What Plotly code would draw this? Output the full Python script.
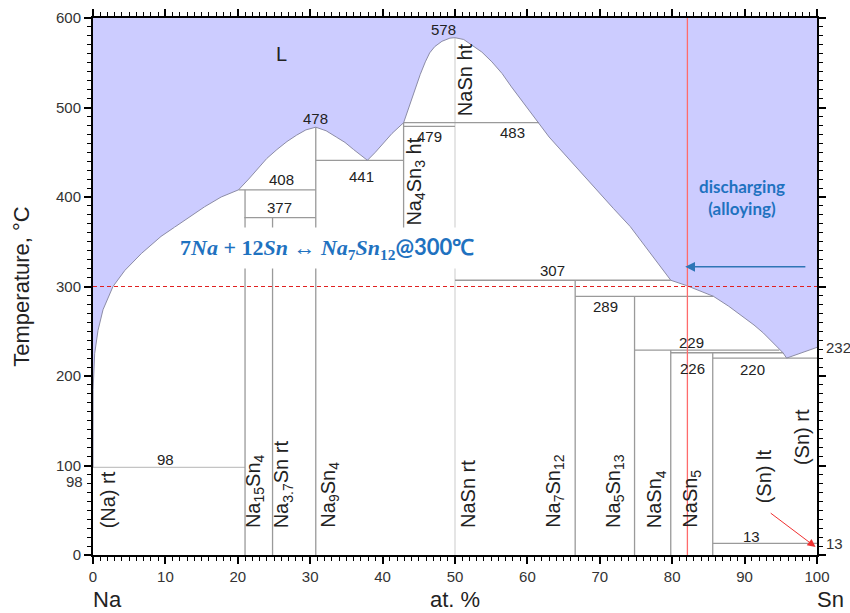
import plotly.graph_objects as go

# ---- Na–Sn phase diagram data (composition in at.% Sn, temperature in °C) ----
liquidus_x = [0, 0.02, 0.23, 0.69, 1.38, 2.76, 4.4, 6.7, 9.4, 12.7, 15.4, 17.7, 20.1,
              21.5, 22.6, 24.0, 25.4, 26.8, 28.1, 29.4, 30.77,
              32.2, 33.6, 34.8, 36.0, 37.0, 37.9,
              39.0, 40.1, 41.3, 42.9,
              43.6, 44.5, 45.2, 45.9, 46.5, 47.2, 48.2, 49.3, 50.0,
              51.2, 52.3, 53.7, 55.1, 56.5, 57.8, 59.0, 60.1, 61.6,
              63.0, 65.0, 67.3, 69.6, 71.9, 74.2, 77.0, 79.8,
              82.0, 84.0, 85.7,
              87.8, 89.8, 91.3, 92.6, 93.8, 94.8, 95.3, 95.8,
              100]
liquidus_t = [98, 185, 225, 251, 274, 300, 318, 337, 356, 374, 389, 400, 408,
              420, 430, 443, 453, 462, 469, 475, 478,
              474, 467, 461, 453, 447, 441,
              450, 460, 471, 483,
              500, 521, 537, 551, 561, 568, 574, 577.5, 578,
              576, 570, 562, 551, 538, 523, 510, 499, 483,
              467, 449, 428, 408, 387, 367, 337, 307,
              301, 295, 289,
              278, 266, 257, 248, 238, 229, 226, 220,
              232]

# invariant (horizontal) reactions
invariant_t = [98, 408, 377, 441, 483, 479, 307, 289, 229, 226, 220, 13]
invariant_x0 = [0, 20.1, 20.9, 30.77, 42.9, 42.9, 50, 66.6, 74.8, 79.8, 85.6, 85.6]
invariant_x1 = [21.0, 30.77, 30.77, 42.9, 61.6, 50, 79.8, 85.7, 94.8, 95.3, 100, 100]

# compound / phase (vertical) lines
compound_x = [21.0, 24.8, 30.77, 42.9, 66.6, 74.8, 79.8, 85.6]
compound_t0 = [0, 0, 0, 355, 0, 0, 0, 0]
compound_t1 = [408, 377, 478, 483, 307, 289, 229, 226]
nasn_x = 50
nasn_t = [0, 578]

# operating temperature and composition marker
op_temp = 300
op_comp = 82.1

# label texts
value_labels = ["98", "408", "377", "441", "479", "483", "307", "289", "229", "226", "220", "13", "478", "578"]
value_label_t = [98, 408, 377, 441, 479, 483, 307, 289, 229, 226, 220, 13, 478, 578]
phase_labels = ["(Na) rt", "Na<sub>15</sub>Sn<sub>4</sub>", "Na<sub>3.7</sub>Sn rt", "Na<sub>9</sub>Sn<sub>4</sub>",
                "NaSn rt", "Na<sub>7</sub>Sn<sub>12</sub>", "Na<sub>5</sub>Sn<sub>13</sub>", "NaSn<sub>4</sub>",
                "NaSn<sub>5</sub>", "(Sn) lt", "(Sn) rt", "NaSn ht", "Na<sub>4</sub>Sn<sub>3</sub> ht"]

# ---- layout helpers (positions for text) ----
value_label_x = [10.0, 26.1, 25.7, 37.1, 46.5, 58.0, 63.4, 70.8, 82.7, 82.8, 91.1, 91.0, 30.7, 48.4]
value_label_shift = [8, 10, 10, -16, -10, -10, 10, -10, 8, -16, -11, 7, 9, 8]
phase_label_x = [2.2, 22.4, 26.3, 32.7, 51.8, 63.8, 72.1, 77.8, 82.7, 92.6, 97.9, 51.3, 44.5]
phase_label_t0 = [28, 28, 28, 28, 28, 28, 28, 28, 28, 56, 98, 488, 366]

LINE_GREY = "#9a9a9a"
TEXT = "#222222"
BLUE = "#1f72c0"
FONT = "Liberation Sans, Arial, sans-serif"


def segments_h(ts, x0s, x1s):
    xs, ys = [], []
    for t, a, b in zip(ts, x0s, x1s):
        xs += [a, b, None]
        ys += [t, t, None]
    return xs, ys


def segments_v(xs_, t0s, t1s):
    xs, ys = [], []
    for x, a, b in zip(xs_, t0s, t1s):
        xs += [x, x, None]
        ys += [a, b, None]
    return xs, ys


fig = go.Figure()

# liquid region (above liquidus up to the top of the axis)
fig.add_trace(go.Scatter(
    x=liquidus_x + [100, 0], y=liquidus_t + [600, 600],
    fill="toself", fillcolor="#ccccff", line=dict(width=0),
    mode="lines", hoverinfo="skip", showlegend=False))

# NaSn line (lighter)
fig.add_trace(go.Scatter(x=[nasn_x, nasn_x], y=nasn_t, mode="lines",
                         line=dict(color="#dcdcdc", width=1.5), showlegend=False, hoverinfo="skip"))

# invariant lines
hx, hy = segments_h(invariant_t[1:], invariant_x0[1:], invariant_x1[1:])
fig.add_trace(go.Scatter(x=hx, y=hy, mode="lines",
                         line=dict(color=LINE_GREY, width=1.3), showlegend=False, hoverinfo="skip"))
fig.add_trace(go.Scatter(x=[invariant_x0[0], invariant_x1[0]], y=[invariant_t[0]] * 2, mode="lines",
                         line=dict(color="#c4c4c4", width=1.3), showlegend=False, hoverinfo="skip"))

# compound lines
vx, vy = segments_v(compound_x, compound_t0, compound_t1)
fig.add_trace(go.Scatter(x=vx, y=vy, mode="lines",
                         line=dict(color=LINE_GREY, width=1.3), showlegend=False, hoverinfo="skip"))

# liquidus outline
fig.add_trace(go.Scatter(x=liquidus_x, y=liquidus_t, mode="lines",
                         line=dict(color="#8c8ca6", width=1), showlegend=False, hoverinfo="skip"))

# operating temperature (dashed) and composition (solid) markers
fig.add_trace(go.Scatter(x=[0, 100], y=[op_temp, op_temp], mode="lines",
                         line=dict(color="#e02020", width=1, dash="4px,3px"), showlegend=False, hoverinfo="skip"))
fig.add_trace(go.Scatter(x=[op_comp, op_comp], y=[0, 600], mode="lines",
                         line=dict(color="#ff6b6b", width=1.3), showlegend=False, hoverinfo="skip"))

ann = []
for txt, x, t, s in zip(value_labels, value_label_x, value_label_t, value_label_shift):
    ann.append(dict(x=x, y=t, text=txt, showarrow=False, yshift=s,
                    font=dict(family=FONT, size=15, color=TEXT)))

for txt, x, t in zip(phase_labels, phase_label_x, phase_label_t0):
    ann.append(dict(x=x, y=t, text=txt, showarrow=False, textangle=-90,
                    xanchor="center", yanchor="bottom",
                    font=dict(family=FONT, size=20, color=TEXT)))

# liquid label
ann.append(dict(x=26.1, y=560, text="L", showarrow=False,
                font=dict(family=FONT, size=20, color=TEXT)))

# extra tick-style labels on the axes
ann.append(dict(x=0, y=98, xref="paper", text="98", showarrow=False, xanchor="right",
                xshift=-8, yshift=-14, font=dict(family=FONT, size=15, color="#333")))
ann.append(dict(x=1, y=232, xref="paper", text="232", showarrow=False, xanchor="left",
                xshift=7, font=dict(family=FONT, size=15, color="#333")))
ann.append(dict(x=1, y=13, xref="paper", text="13", showarrow=False, xanchor="left",
                xshift=7, font=dict(family=FONT, size=15, color="#333")))

# composition end labels
ann.append(dict(x=0, y=0, xref="paper", yref="paper", text="Na", showarrow=False,
                xanchor="center", yanchor="middle", xshift=14, yshift=-44,
                font=dict(family=FONT, size=22, color=TEXT)))
ann.append(dict(x=1, y=0, xref="paper", yref="paper", text="Sn", showarrow=False,
                xanchor="center", yanchor="middle", xshift=13, yshift=-44,
                font=dict(family=FONT, size=22, color=TEXT)))

# reaction formula
ann.append(dict(x=32.3, y=343, showarrow=False, bgcolor="white", borderpad=5,
                text=("<b>7<i>Na</i> + 12<i>Sn</i> ↔ <i>Na</i><sub>7</sub><i>Sn</i><sub>12</sub>"
                      "<span style='font-family:Lato, sans-serif'>@300℃</span></b>"),
                font=dict(family="Liberation Serif, DejaVu Serif, serif", size=22, color=BLUE)))

# discharge direction
ann.append(dict(x=89.7, y=399, showarrow=False, text="<b>discharging<br>(alloying)</b>",
                font=dict(family="Lato, Open Sans, sans-serif", size=17, color=BLUE)))
ann.append(dict(x=81.8, y=322, ax=98.6, ay=322, xref="x", yref="y", axref="x", ayref="y",
                text="", showarrow=True, arrowhead=2, arrowsize=1.3, arrowwidth=1.5,
                arrowcolor="#2e75b6"))

# pointer to the (Sn) allotropic transition at 13 °C
ann.append(dict(x=99.8, y=9, ax=93.4, ay=48, xref="x", yref="y", axref="x", ayref="y",
                text="", showarrow=True, arrowhead=2, arrowsize=1.6, arrowwidth=1,
                arrowcolor="#f03030"))

axis_common = dict(showgrid=False, zeroline=False, showline=True, linecolor="black", linewidth=2,
                   mirror="allticks", ticks="outside", ticklen=7, tickwidth=1.5, tickcolor="black",
                   automargin=False,
                   tickfont=dict(family=FONT, size=15, color="#333"))

fig.update_layout(
    width=850, height=613,
    margin=dict(l=93, r=33, t=18, b=58),
    paper_bgcolor="white", plot_bgcolor="white",
    showlegend=False,
    annotations=ann,
    xaxis=dict(range=[0, 100], tick0=0, dtick=10,
               minor=dict(dtick=1, ticks="outside", ticklen=4, tickcolor="black", tickwidth=1.2, showgrid=False),
               title=dict(text="at. %", font=dict(family=FONT, size=22, color=TEXT), standoff=8),
               **axis_common),
    yaxis=dict(range=[0, 600], tick0=0, dtick=100,
               minor=dict(dtick=10, ticks="outside", ticklen=4, tickcolor="black", tickwidth=1.2, showgrid=False),
               title=dict(text="Temperature, °C", font=dict(family=FONT, size=22, color=TEXT), standoff=20),
               **axis_common),
)

fig.write_html("out.html")
